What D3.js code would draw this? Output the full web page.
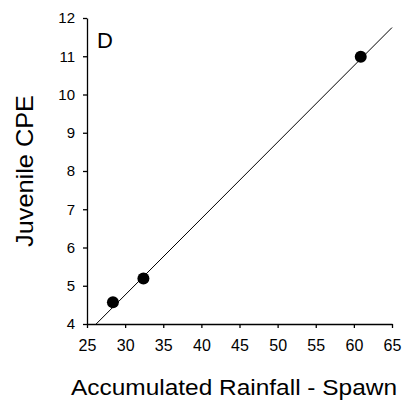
<!DOCTYPE html>
<html><head><meta charset="utf-8">
<script src="https://cdn.jsdelivr.net/npm/d3@7"></script>
<style>body{margin:0;background:#fff;}svg{display:block;}text{font-family:"Liberation Sans",Arial,sans-serif;fill:#000;}</style>
</head><body>
<svg id="c" width="412" height="407"></svg>
<script>
const rainfall = [28.4, 32.4, 60.9];
const juvenileCPE = [4.57, 5.19, 10.99];
const fitX = [26.2, 65];
const fitY = [4, 11.75];
const xTicks = [25, 30, 35, 40, 45, 50, 55, 60, 65];
const yTicks = [4, 5, 6, 7, 8, 9, 10, 11, 12];
const panelLabel = "D";
const xTitle = "Accumulated Rainfall - Spawn";
const yTitle = "Juvenile CPE";

const svg = d3.select("#c");
const x = d3.scaleLinear().domain([25, 65]).range([87, 392]);
const y = d3.scaleLinear().domain([4, 12]).range([324, 18]);

const gx = svg.append("g").attr("transform", `translate(0,${y(4)})`)
  .call(d3.axisBottom(x).tickValues(xTicks).tickSize(4).tickPadding(12).tickSizeOuter(0));
const gy = svg.append("g").attr("transform", `translate(${x(25)},0)`)
  .call(d3.axisLeft(y).tickValues(yTicks).tickSize(4).tickPadding(8).tickSizeOuter(0));
[gx, gy].forEach(g => {
  g.selectAll("path,line").attr("stroke", "#000").attr("stroke-width", 1.3);
  g.selectAll("text").attr("font-family", '"Liberation Sans",Arial,sans-serif').attr("fill", "#000");
});
gx.selectAll("text").attr("font-size", 16);
gy.selectAll("text").attr("font-size", 15);

svg.append("line")
  .attr("x1", x(fitX[0])).attr("y1", y(fitY[0]))
  .attr("x2", x(fitX[1])).attr("y2", y(fitY[1]))
  .attr("stroke", "#000").attr("stroke-width", 1);

svg.selectAll("circle.pt").data(rainfall.map((r, i) => [r, juvenileCPE[i]]))
  .enter().append("circle").attr("class", "pt")
  .attr("cx", d => x(d[0])).attr("cy", d => y(d[1])).attr("r", 6).attr("fill", "#000");

svg.append("text").attr("x", 97).attr("y", 48).attr("font-size", 22).text(panelLabel);
svg.append("text").attr("x", 71).attr("y", 395).attr("font-size", 22)
  .attr("textLength", 326).attr("lengthAdjust", "spacingAndGlyphs").text(xTitle);
svg.append("text").attr("transform", "translate(33,247) rotate(-90)").attr("font-size", 24)
  .attr("textLength", 152).attr("lengthAdjust", "spacingAndGlyphs").text(yTitle);
</script>
</body></html>
